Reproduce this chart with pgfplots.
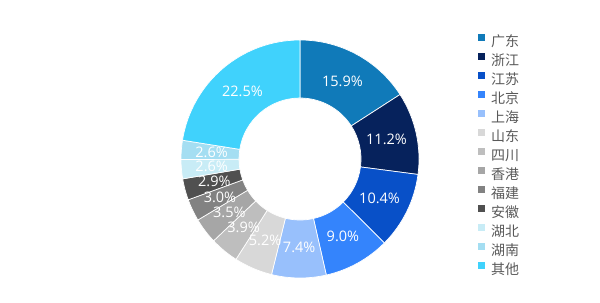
\documentclass[border=0pt]{standalone}
\usepackage{pgfplots}
\pgfplotsset{compat=1.18}
\usepackage{pgfplotstable}
\usepackage{fontspec}
\setmainfont{Open Sans}
\newfontfamily\cjk{Noto Sans CJK SC}
\definecolor{c1}{RGB}{16,122,185}
\definecolor{c2}{RGB}{6,34,92}
\definecolor{c3}{RGB}{8,80,200}
\definecolor{c4}{RGB}{52,132,252}
\definecolor{c5}{RGB}{152,192,252}
\definecolor{c6}{RGB}{216,216,216}
\definecolor{c7}{RGB}{190,190,190}
\definecolor{c8}{RGB}{166,166,166}
\definecolor{c9}{RGB}{130,130,130}
\definecolor{c10}{RGB}{80,80,80}
\definecolor{c11}{RGB}{200,236,246}
\definecolor{c12}{RGB}{164,222,242}
\definecolor{c13}{RGB}{64,210,252}
\definecolor{legtext}{RGB}{89,89,89}
\pgfplotstableread[col sep=comma]{
name,value,color
广东,15.9,c1
浙江,11.2,c2
江苏,10.4,c3
北京,9.0,c4
上海,7.4,c5
山东,5.2,c6
四川,3.9,c7
香港,3.5,c8
福建,3.0,c9
安徽,2.9,c10
湖北,2.6,c11
湖南,2.6,c12
其他,22.5,c13
}\datatable
\newcommand\labelfont{\fontsize{14.5bp}{16bp}\selectfont}
\begin{document}
\begin{tikzpicture}[x=1bp,y=1bp]
\useasboundingbox (0,0) rectangle (600,302);
\begin{axis}[
  at={(300bp,143bp)}, anchor=center,
  width=238bp, height=238bp, scale only axis,
  xmin=-1, xmax=1, ymin=-1, ymax=1,
  hide axis, clip=false,
  legend cell align=left,
  legend image code/.code={\fill[#1, draw=none] (0bp,2.5bp) rectangle (7bp,9.5bp);},
  legend style={at={(1.248,1.027)}, anchor=north west, draw=none, fill=none,
    inner sep=0pt, outer sep=0pt, row sep=3.0bp, column sep=6bp,
    nodes={inner sep=0pt, text height=10bp, text depth=3bp,
      font=\cjk\fontsize{14bp}{16bp}\selectfont, text=legtext}},
]
\def\total{100.1}
\def\rin{0.5126}
\def\rl{0.745}
\def\cum{0}
\pgfplotsforeachungrouped \i in {0,...,12}{%
  \pgfplotstablegetelem{\i}{value}\of\datatable \let\v\pgfplotsretval
  \pgfplotstablegetelem{\i}{color}\of\datatable \let\c\pgfplotsretval
  \pgfmathsetmacro\aa{90-\cum/\total*360}%
  \pgfmathsetmacro\cum{\cum+\v}%
  \pgfmathsetmacro\bb{90-\cum/\total*360}%
  \edef\temp{\noexpand\fill[\c, draw=white, line width=0.7pt] (axis cs:{cos(\aa)},{sin(\aa)}) arc[start angle=\aa, end angle=\bb, radius=119bp] -- (axis cs:{\rin*cos(\bb)},{\rin*sin(\bb)}) arc[start angle=\bb, end angle=\aa, radius=61bp] -- cycle;}%
  \temp
}
\def\cum{0}
\pgfplotsforeachungrouped \i in {0,...,12}{%
  \pgfplotstablegetelem{\i}{value}\of\datatable \let\v\pgfplotsretval
  \pgfmathsetmacro\aa{90-\cum/\total*360}%
  \pgfmathsetmacro\cum{\cum+\v}%
  \pgfmathsetmacro\bb{90-\cum/\total*360}%
  \pgfmathsetmacro\mm{(\aa+\bb)/2}%
  \edef\temp{\noexpand\node[text=white, font=\noexpand\labelfont, inner sep=0pt] at (axis cs:{\rl*cos(\mm)},{\rl*sin(\mm)}) {\v\noexpand\%};}%
  \temp
}
\pgfplotsforeachungrouped \i in {0,...,12}{%
  \pgfplotstablegetelem{\i}{color}\of\datatable \let\c\pgfplotsretval
  \pgfplotstablegetelem{\i}{name}\of\datatable \let\n\pgfplotsretval
  \edef\temp{\noexpand\addlegendimage{fill=\c}\noexpand\addlegendentry{\n}}%
  \temp
}
\end{axis}
\end{tikzpicture}
\end{document}
